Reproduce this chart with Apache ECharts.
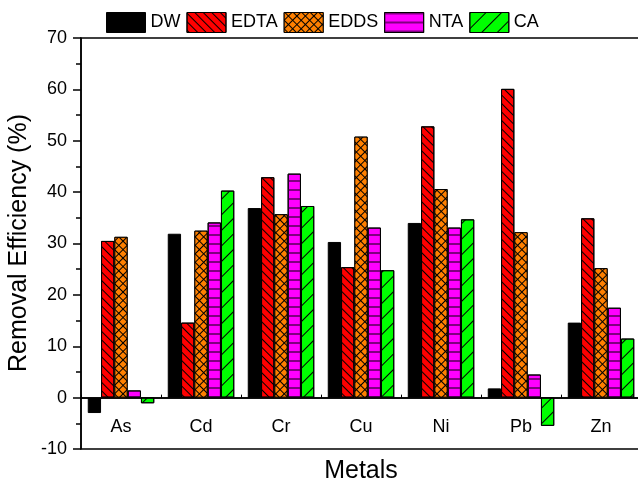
<!DOCTYPE html>
<html>
<head>
<meta charset="utf-8">
<script src="https://cdn.jsdelivr.net/npm/echarts@6/dist/echarts.min.js"></script>
<style>html,body{margin:0;padding:0;background:#fff}#c{width:638px;height:484px}</style>
</head>
<body>
<div id="c"></div>
<script>
var categories = ['As', 'Cd', 'Cr', 'Cu', 'Ni', 'Pb', 'Zn'];
var seriesNames = ['DW', 'EDTA', 'EDDS', 'NTA', 'CA'];
var DW   = [-3.0, 31.9, 36.9, 30.3, 34.0, 1.8, 14.6];
var EDTA = [30.5, 14.6, 42.9, 25.4, 52.8, 60.1, 34.9];
var EDDS = [31.3, 32.5, 35.7, 50.8, 40.6, 32.2, 25.2];
var NTA  = [1.4, 34.1, 43.6, 33.1, 33.1, 4.5, 17.5];
var CA   = [-1.1, 40.3, 37.3, 24.8, 34.7, -5.5, 11.5];
var yTicks = { min: -10, max: 70, interval: 10 };

var FONT = "'Liberation Sans', Arial, sans-serif";
var colors = ['#000000', '#ff0000', '#ff8000', '#ff00ff', '#00ff00'];
var decals = [
  null,
  { symbol: 'rect', symbolSize: 1, color: '#000', dashArrayX: [1, 0], dashArrayY: [1, 5], rotation: Math.PI / 4 },
  { symbol: 'rect', symbolSize: 1, color: '#ff8000', backgroundColor: '#000', dashArrayX: [5, 1], dashArrayY: [5, 1], rotation: Math.PI / 4 },
  { symbol: 'rect', symbolSize: 1, color: '#800080', dashArrayX: [1, 0], dashArrayY: [1.5, 7], rotation: 0 },
  { symbol: 'rect', symbolSize: 1, color: '#000', dashArrayX: [1, 0], dashArrayY: [1, 10], rotation: -Math.PI / 4 }
];
var values = [DW, EDTA, EDDS, NTA, CA];

var GRID_TOP = 38, GRID_H = 411;
// distance from grid bottom up to the zero line (derived from the y scale)
var zeroOffset = -GRID_H * (0 - yTicks.min) / (yTicks.max - yTicks.min);

var series = seriesNames.map(function (n, i) {
  var st = { color: colors[i], borderColor: '#000', borderWidth: 1 };
  if (decals[i]) st.decal = decals[i];
  return {
    name: n, type: 'bar', xAxisIndex: 0, yAxisIndex: 0,
    data: values[i], barWidth: 13.3, barGap: '0%',
    itemStyle: st, emphasis: { disabled: true }
  };
});

var chart = echarts.init(document.getElementById('c'), null, { renderer: 'canvas' });
chart.setOption({
  animation: false,
  backgroundColor: '#fff',
  textStyle: { fontFamily: FONT },
  grid: { left: 81, top: GRID_TOP, width: 560, height: GRID_H, show: true, borderColor: '#000', borderWidth: 1.5,
          backgroundColor: 'transparent', outerBoundsMode: 'none', containLabel: false },
  legend: {
    data: seriesNames, left: 106, top: 12, padding: 0, icon: 'rect',
    itemWidth: 39, itemHeight: 20, itemGap: 6,
    textStyle: { fontSize: 18, color: '#000', fontFamily: FONT },
    itemStyle: { borderColor: '#000', borderWidth: 1 }
  },
  xAxis: [
    {
      type: 'category', data: categories, position: 'bottom', offset: zeroOffset,
      axisLine: { onZero: false, lineStyle: { color: '#000', width: 1.5 } },
      axisTick: { alignWithLabel: true, length: 8, lineStyle: { color: '#000', width: 1.5 } },
      axisLabel: { fontSize: 18, color: '#000', margin: 20, fontFamily: FONT },
      splitLine: { show: false }
    },
    {
      type: 'category', data: categories, position: 'bottom', offset: zeroOffset,
      axisLine: { onZero: false, lineStyle: { color: '#000', width: 1.5 } },
      axisTick: { alignWithLabel: false, interval: 0, length: 4, lineStyle: { color: '#000', width: 1.5 } },
      axisLabel: { show: false },
      splitLine: { show: false }
    },
    {
      type: 'value', position: 'top', min: 0, max: 14, interval: 1,
      axisLine: { show: false },
      axisTick: { show: true, length: 3, lineStyle: { color: '#000', width: 1 } },
      axisLabel: { show: false },
      splitLine: { show: false }
    }
  ],
  yAxis: [{
    type: 'value', min: yTicks.min, max: yTicks.max, interval: yTicks.interval,
    axisLine: { show: true, onZero: false, lineStyle: { color: '#000', width: 1.5 } },
    axisTick: { show: true, length: 8, lineStyle: { color: '#000', width: 1.5 } },
    minorTick: { show: true, splitNumber: 2, length: 5, lineStyle: { color: '#000', width: 1.5 } },
    axisLabel: { fontSize: 18, color: '#000', margin: 14, fontFamily: FONT },
    splitLine: { show: false }
  }],
  graphic: [{
    type: 'text', x: 19, y: 243, rotation: Math.PI / 2,
    style: { text: 'Removal Efficiency (%)', fontSize: 25, fill: '#000', fontFamily: FONT, align: 'center', verticalAlign: 'middle' }
  }, {
    type: 'text', x: 361, y: 471,
    style: { text: 'Metals', fontSize: 25, fill: '#000', fontFamily: FONT, align: 'center', verticalAlign: 'middle' }
  }],
  series: series
});
</script>
</body>
</html>
